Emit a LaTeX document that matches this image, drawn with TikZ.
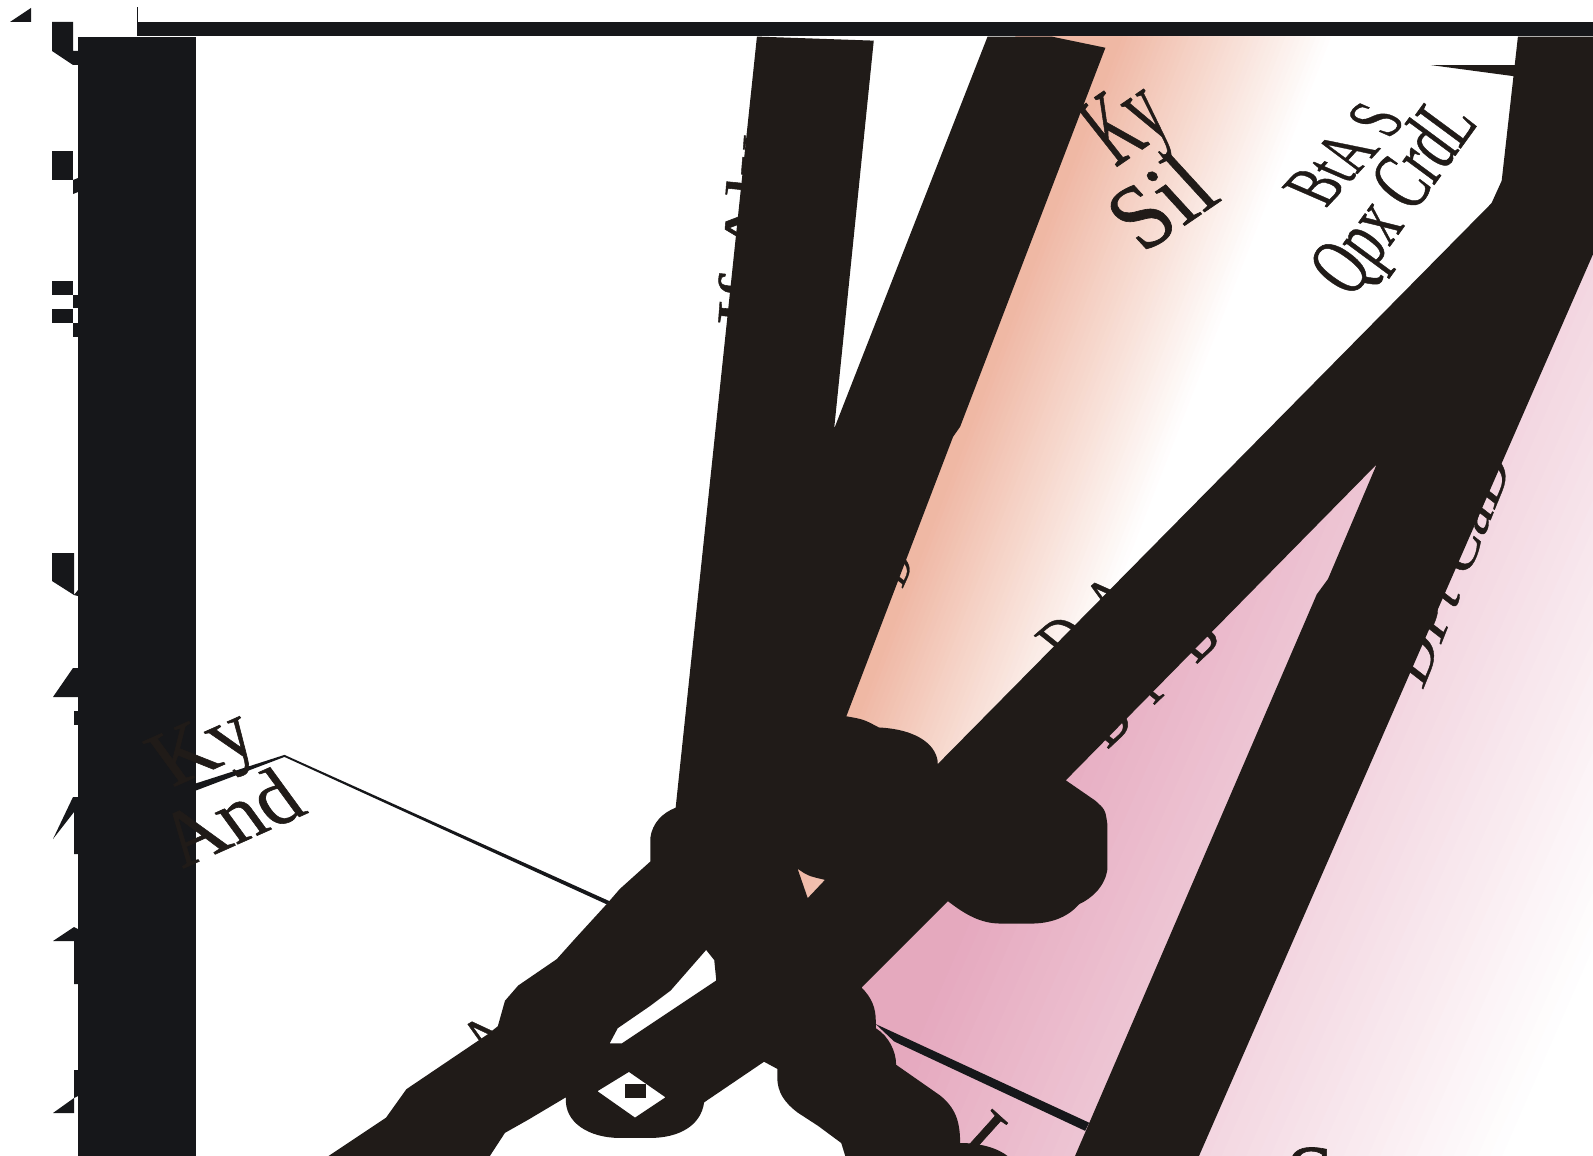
\documentclass[tikz,border=0pt]{standalone}
\usepackage{fontspec}
\setmainfont{Liberation Serif}
\newfontfamily\heavyfont[FakeBold=0.7]{Liberation Serif}
\definecolor{ink}{HTML}{201B18}
\definecolor{ink2}{HTML}{16171A}
\definecolor{peachc}{HTML}{EFB6A2}
\definecolor{pinkc}{HTML}{E5A8BE}
\tikzset{
  lab/.style={text=ink,inner sep=0pt,outer sep=0pt,anchor=base west,font=\heavyfont\fontsize{#1}{#1}\selectfont},
  lab/.default=60,
  blk/.style={fill=ink,draw=none},
  blk2/.style={fill=ink2,draw=none}
}
\begin{document}
\begin{tikzpicture}[x=1pt,y=-1pt]
\useasboundingbox (0,0) rectangle (1593,1156);
\clip (0,0) rectangle (1593,1156);
\begin{scope}[xscale=1.016,yscale=1.016]
% peach fade
\foreach \w in {215,210,...,5}{
  \pgfmathsetmacro\p{100-\w/2.15}
  \fill[peachc!\p!white] (1000,36) -- (1100+\w,36) -- (1100-0.388*864+\w,900) -- (700,900) -- cycle;
}
% pink fade
\begin{scope}
\clip (800,950) -- (1500,250) -- (1568,250) -- (1568,1138) -- (900,1138) -- cycle;
\foreach \u in {1490,1478,...,850}{
  \pgfmathsetmacro\p{(1490-\u)/6.4}
  \fill[pinkc!\p!white] (700+409,200) -- (\u+409,200) -- (\u,1138) -- (700,1138) -- cycle;
}
\end{scope}
% text partly behind the bands
\node[lab=60,cm={0.1,1.33,-1,0.1,(0pt,0pt)}] (tAly) at (745,330) {Jf Aly};
\node[lab=55,cm={0.72,0.62,-1.0,0.8,(0pt,0pt)}] (tDA) at (1052,655) {D\hspace{0.45em}A};
\node[lab=55,cm={0.75,0.72,-1.0,0.8,(0pt,0pt)}] (tDB) at (1090,738) {D\hspace{0.4em}i\hspace{0.75em}B};
\node[lab=50,cm={0.49,1.23,-0.9,0.7,(0pt,0pt)}] (tDP) at (1400,680) {DPt CaD};
\node[lab=40,cm={0.4,0.9,-0.9,0.7,(0pt,0pt)}] (tD) at (888,580) {D};
\node[lab=55,cm={0.85,0.5,-1.0,0.8,(0pt,0pt)}] (tAl) at (482,1045) {A};
\node[lab=80,rotate=-42] (tI) at (940,1128) {I};
\node[lab=90] (tS) at (1265,1188) {S};
% black silhouette
\fill[blk,even odd rule]
 (745,36) -- (860,40) -- (821,422) -- (972,36) -- (1035,36) -- (1088,47) -- (945,420)
 -- (938,430) -- (833,705) .. controls (850,708) .. (865,716)
 .. controls (905,718) and (923,735) .. (923,752)
 -- (1468,200) -- (1478,178) -- (1494,36) -- (1568,36) -- (1568,250) -- (1180,1138) -- (1058,1138)
 -- (1296,585) -- (1307,570) -- (1355,457) -- (1049,768) -- (1078,788) .. controls (1088,797) .. (1090,812)
 -- (1090,855) .. controls (1088,872) and (1075,884) .. (1062,890)
 .. controls (1050,904) and (1032,909) .. (1015,909) -- (985,909)
 .. controls (965,909) and (950,900) .. (933,887) -- (848,972)
 .. controls (858,982) and (862,992) .. (862,1005) -- (862,1012)
 .. controls (875,1020) and (882,1035) .. (882,1048)
 -- (925,1078) .. controls (940,1090) and (945,1103) .. (945,1125)
 .. controls (965,1125) and (982,1130) .. (992,1138)
 -- (832,1138) -- (828,1125) -- (805,1108) -- (785,1095)
 .. controls (772,1085) and (765,1075) .. (765,1060) -- (765,1052) -- (752,1045)
 -- (693,1085) .. controls (690,1108) and (668,1120) .. (640,1120) -- (610,1120)
 .. controls (580,1120) and (555,1105) .. (557,1080)
 -- (520,1102) -- (497,1115) -- (482,1138) -- (323,1138) -- (380,1100) -- (400,1072)
 -- (480,1018) -- (490,1010) -- (497,985) -- (510,970) -- (548,944) -- (565,925)
 -- (597,890) -- (610,875) -- (640,848) -- (640,825) .. controls (642,810) and (652,800) .. (665,795) -- cycle
 % inner white gap
 (695,935) -- (703,945) -- (705,965) -- (612,1027) -- (600,1027) -- (608,1012) -- (640,990) -- (660,975) -- cycle
 % peach gap
 (785,855) .. controls (795,862) .. (812,866) -- (795,884) -- cycle
 % diamond
 (619,1055) -- (655,1080) -- (625,1100) -- (588,1074) -- cycle;
\fill[blk] (615,1067) rectangle (636,1081);
\fill[blk] (1408,64) -- (1492,64) -- (1490,75) -- cycle;
% thin connector lines
\fill[blk2] (193,771) -- (280,743) -- (600,887) -- (597,890) -- (280,745) -- (193,778) -- cycle;
\fill[blk2] (862,1008) -- (1072,1105) -- (1068,1113) -- (880,1025) -- cycle;
% labels in front
\node[lab=60,cm={0.8,0.55,-1.1,1.4,(0pt,0pt)}] (tKy) at (1098,165) {Ky};
\node[lab=60,cm={1.2,0.82,-1.1,1.2,(0pt,0pt)}] (tSil) at (1125,250) {Sil};
\node[lab=60,cm={0.55,0.6,-1.15,0.5,(0pt,0pt)}] (tBtA) at (1305,205) {BtA S};
\node[lab=60,cm={0.52,0.72,-1.15,0.85,(0pt,0pt)}] (tQpx) at (1330,295) {Qpx CrdL};
\end{scope}
% dark column and top bar
\fill[blk2] (78,37) rectangle (196,1156);
\fill[blk2] (137,22) rectangle (1593,36);
\fill[blk2] (136.5,7) rectangle (137.5,22);
\fill[blk2] (10,22) -- (31,8) -- (31,22) -- cycle;
\fill[blk2] (52,22) -- (73,22) -- (73,51) -- (78,51) -- (78,65) -- (73,65) -- (52,51) -- cycle;
\fill[blk2] (52,151) rectangle (73,180);
\fill[blk2] (73,180) -- (78,178) -- (78,192) -- (73,194) -- cycle;
\fill[blk2] (52,281) rectangle (73,295);
\fill[blk2] (73,295) rectangle (78,308);
\fill[blk2] (52,309) rectangle (73,323);
\fill[blk2] (73,323) rectangle (78,337);
\fill[blk2] (52,553) -- (74,553) -- (74,595) -- (78,596) -- (78,590) -- (74,595) -- (52,581) -- cycle;
\fill[blk2] (53,697) -- (73,668) -- (78,668) -- (78,697) -- cycle;
\fill[blk2] (74,711) rectangle (78,725);
\fill[blk2] (53,839) -- (73,797) -- (78,797) -- (78,854) -- (74,854) -- (74,812) -- cycle;
\fill[blk2] (53,941) -- (74,927) -- (78,929) -- (78,984) -- (74,984) -- (74,941) -- cycle;
\fill[blk2] (74,1070) -- (78,1070) -- (78,1096) -- (74,1098) -- (74,1113) -- (53,1113) -- (74,1098) -- cycle;
% labels over the column
\begin{scope}[xscale=1.016,yscale=1.016]
\node[lab=80,cm={0.92,0.41,-0.62,0.85,(0pt,0pt)}] (tKy2) at (170,775) {Ky};
\node[lab=80,cm={0.92,0.41,-0.62,0.85,(0pt,0pt)}] (tAnd) at (180,855) {And};
\end{scope}
\end{tikzpicture}
\end{document}
